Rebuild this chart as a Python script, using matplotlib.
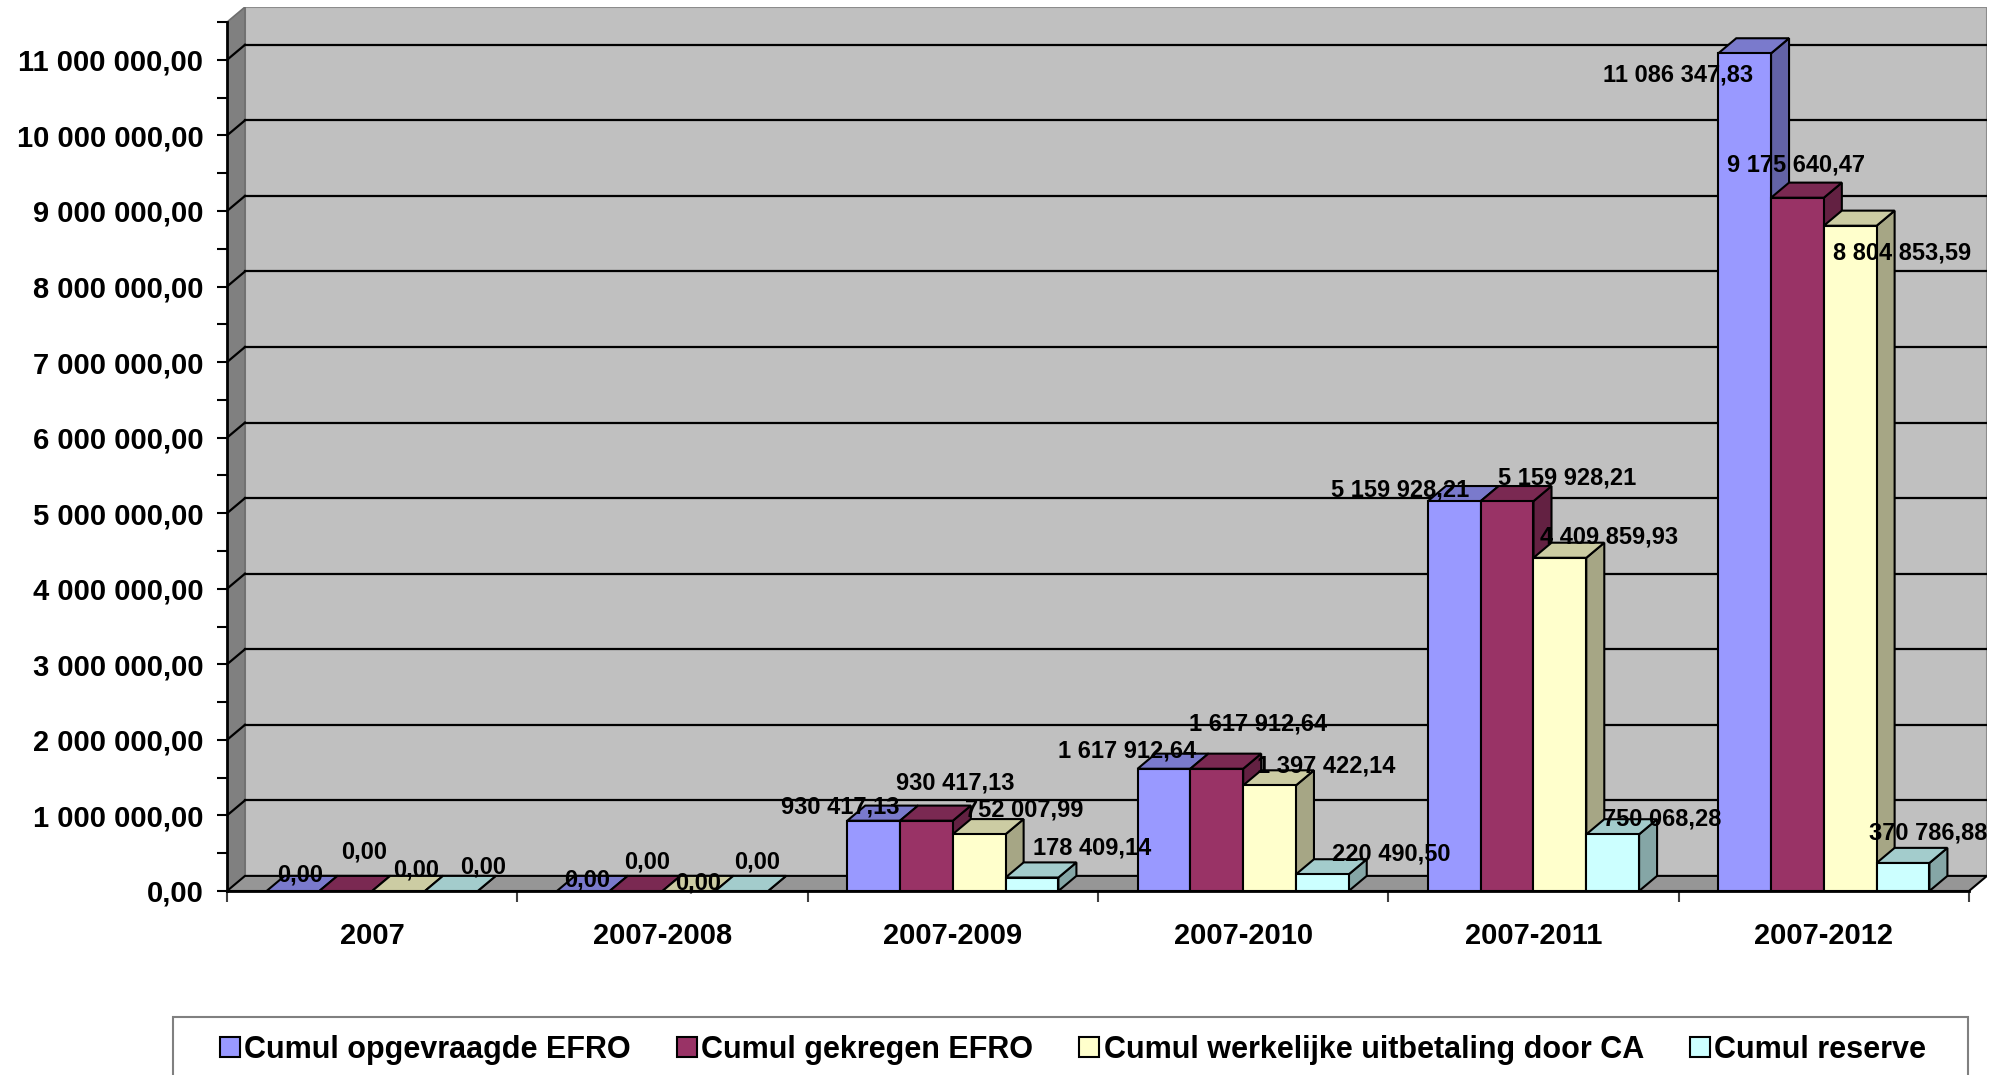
import matplotlib.pyplot as plt
from matplotlib.patches import Polygon, Patch, Rectangle
from matplotlib.ticker import FixedLocator, FuncFormatter

plt.rcParams['font.family'] = ['Liberation Sans', 'DejaVu Sans']
plt.rcParams['font.weight'] = 'bold'

# data
categories = ['2007', '2007-2008', '2007-2009', '2007-2010', '2007-2011', '2007-2012']
series_names = ['Cumul opgevraagde EFRO', 'Cumul gekregen EFRO',
                'Cumul werkelijke uitbetaling door CA', 'Cumul reserve']
opgevraagd = [0.00, 0.00, 930417.13, 1617912.64, 5159928.21, 11086347.83]
gekregen = [0.00, 0.00, 930417.13, 1617912.64, 5159928.21, 9175640.47]
uitbetaald = [0.00, 0.00, 752007.99, 1397422.14, 4409859.93, 8804853.59]
reserve = [0.00, 0.00, 178409.14, 220490.50, 750068.28, 370786.88]
y_ticks = [i * 1000000 for i in range(12)]

series = [opgevraagd, gekregen, uitbetaald, reserve]
front_colors = ['#9999FF', '#993366', '#FFFFCC', '#CCFFFF']

# label nudges in pixels (right, up) from the top centre of each bar
label_offsets = [
    [(7, 16), (4, 11), (-33, 14), (-37, 18), (-54, 11), (-67, -22)],
    [(18, 39), (11, 29), (29, 38), (41, 45), (60, 23), (-1, 33)],
    [(18, 21), (9, 8), (45, 24), (57, 19), (49, 21), (52, -27)],
    [(32, 24), (15, 29), (60, 30), (69, 20), (50, 15), (25, 30)],
]


def shade(hex_color, f):
    r, g, b = (int(hex_color[i:i + 2], 16) for i in (1, 3, 5))
    return (r * f / 255, g * f / 255, b * f / 255)


def euro(v, pos=None):
    s = f"{v:,.2f}"
    return s.replace(',', ' ').replace('.', ',')


fig = plt.figure(figsize=(20.06, 10.75), dpi=100)
ax = fig.add_axes([227 / 2006, 1 - 891 / 1075, (1987 - 227) / 2006, (891 - 7) / 1075])

n_cat = len(categories)
n_ser = len(series)
w = 1 / (n_ser + 1.5)          # 150% gap width
dx = 18 / 290.2                # depth in category units
dy = 0.2e6                     # depth in value units
ytop = 11.5e6
left, right = -0.5, n_cat - 0.5

ax.set_xlim(left, right + dx)
ax.set_ylim(0, ytop + dy)
ax.set_facecolor('none')

# walls and floor
ax.add_patch(Polygon([(left + dx, dy), (right + dx, dy), (right + dx, ytop + dy), (left + dx, ytop + dy)],
                     closed=True, facecolor='#C0C0C0', edgecolor='#8C8C8C', lw=1.5, zorder=1))
ax.add_patch(Polygon([(left, 0), (left + dx, dy), (left + dx, ytop + dy), (left, ytop)],
                     closed=True, facecolor='#808080', edgecolor='#6E6E6E', lw=1.2, zorder=1.5))
ax.add_patch(Polygon([(left, 0), (right, 0), (right + dx, dy), (left + dx, dy)],
                     closed=True, facecolor='#969696', edgecolor='black', lw=1.5, zorder=1.5))

# gridlines on back wall and left wall
for v in y_ticks[1:]:
    ax.plot([left + dx, right + dx], [v + dy, v + dy], color='black', lw=1.6, zorder=2)
    ax.plot([left, left + dx], [v, v + dy], color='black', lw=1.6, zorder=2)

# 3D-looking bars
for j in range(n_cat):
    for i in range(n_ser):
        v = series[i][j]
        x0 = j - 0.5 + 0.75 * w + i * w
        c = front_colors[i]
        z = 3 + j * 10 + i
        ax.add_patch(Polygon([(x0 + w, 0), (x0 + w + dx, dy), (x0 + w + dx, v + dy), (x0 + w, v)],
                             closed=True, facecolor=shade(c, 0.65), edgecolor='black', lw=1.5, zorder=z))
        ax.add_patch(Polygon([(x0, v), (x0 + w, v), (x0 + w + dx, v + dy), (x0 + dx, v + dy)],
                             closed=True, facecolor=shade(c, 0.8), edgecolor='black', lw=1.5, zorder=z))
        if v > 0:
            ax.add_patch(Rectangle((x0, 0), w, v, facecolor=c, edgecolor='black', lw=1.5, zorder=z))
        ox, oy = label_offsets[i][j]
        ax.annotate(euro(v), xy=(x0 + w / 2, v), xytext=(ox, oy), textcoords='offset pixels',
                    ha='center', va='center', fontsize=17, fontweight='bold', zorder=100)

# axes
for s in ('top', 'right'):
    ax.spines[s].set_visible(False)
ax.spines['left'].set_bounds(0, ytop)
ax.spines['bottom'].set_bounds(left, right)
ax.spines['left'].set_linewidth(2)
ax.spines['bottom'].set_linewidth(2)
ax.spines['left'].set_zorder(50)
ax.spines['bottom'].set_zorder(50)

ax.yaxis.set_major_locator(FixedLocator(y_ticks))
ax.yaxis.set_minor_locator(FixedLocator([v + 500000 for v in y_ticks]))
ax.yaxis.set_major_formatter(FuncFormatter(euro))
ax.tick_params(axis='y', which='major', length=7, width=1.5, pad=10, labelsize=21)
ax.tick_params(axis='y', which='minor', length=7, width=1.5)

ax.xaxis.set_major_locator(FixedLocator([k - 0.5 for k in range(n_cat + 1)]))
ax.xaxis.set_major_formatter(FuncFormatter(lambda v, p: ''))
ax.xaxis.set_minor_locator(FixedLocator(list(range(n_cat))))
ax.xaxis.set_minor_formatter(FuncFormatter(lambda v, p: categories[int(round(v))]))
ax.tick_params(axis='x', which='major', length=8, width=1.5, color='#404040')
ax.tick_params(axis='x', which='minor', length=0, pad=22, labelsize=21)
for t in ax.get_xticklabels(minor=True) + ax.get_yticklabels():
    t.set_fontweight('bold')

# legend
fig.patches.append(Rectangle((173 / 2006, -0.05), (1968 - 173) / 2006, 0.05 + (1075 - 1017) / 1075,
                             transform=fig.transFigure, fill=False, edgecolor='#808080', lw=1.5))
handles = [Patch(facecolor=c, edgecolor='black', lw=1.5) for c in front_colors]
fig.legend(handles, series_names, loc='center left', bbox_to_anchor=(220 / 2006, 1 - 1050 / 1075),
           ncol=4, frameon=False, borderpad=0, borderaxespad=0, handlelength=0.65, handleheight=0.65,
           handletextpad=0.15, columnspacing=1.5, prop={'size': 22, 'weight': 'bold'})

fig.savefig('out.png', dpi=100)
